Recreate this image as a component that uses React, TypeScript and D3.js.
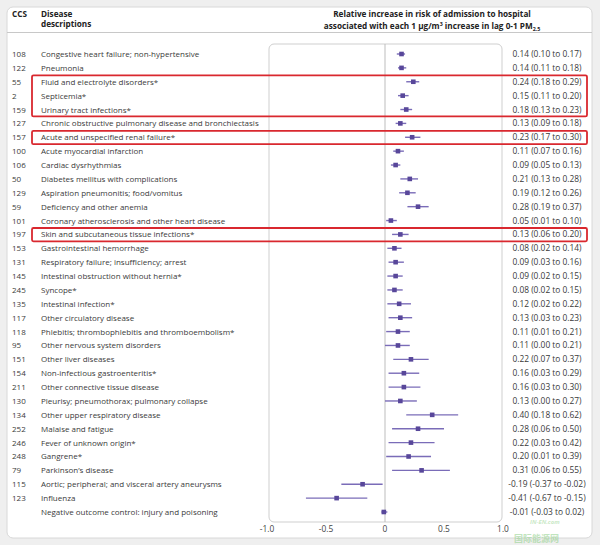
import React from "react";
import * as d3 from "d3";

// rows top to bottom
const ccs = ["108", "122", "55", "2", "159", "127", "157", "100", "106", "50", "129", "59", "101", "197", "153", "131", "145", "245", "135", "117", "118", "95", "151", "154", "211", "130", "134", "252", "246", "248", "79", "115", "123", ""];
const diseases = [
  "Congestive heart failure; non-hypertensive",
  "Pneumonia",
  "Fluid and electrolyte disorders*",
  "Septicemia*",
  "Urinary tract infections*",
  "Chronic obstructive pulmonary disease and bronchiectasis",
  "Acute and unspecified renal failure*",
  "Acute myocardial infarction",
  "Cardiac dysrhythmias",
  "Diabetes mellitus with complications",
  "Aspiration pneumonitis; food/vomitus",
  "Deficiency and other anemia",
  "Coronary atherosclerosis and other heart disease",
  "Skin and subcutaneous tissue infections*",
  "Gastrointestinal hemorrhage",
  "Respiratory failure; insufficiency; arrest",
  "Intestinal obstruction without hernia*",
  "Syncope*",
  "Intestinal infection*",
  "Other circulatory disease",
  "Phlebitis; thrombophlebitis and thromboembolism*",
  "Other nervous system disorders",
  "Other liver diseases",
  "Non-infectious gastroenteritis*",
  "Other connective tissue disease",
  "Pleurisy; pneumothorax; pulmonary collapse",
  "Other upper respiratory disease",
  "Malaise and fatigue",
  "Fever of unknown origin*",
  "Gangrene*",
  "Parkinson\u2019s disease",
  "Aortic; peripheral; and visceral artery aneurysms",
  "Influenza",
  "Negative outcome control: injury and poisoning",
];
const estimate = [0.14, 0.14, 0.24, 0.15, 0.18, 0.13, 0.23, 0.11, 0.09, 0.21, 0.19, 0.28, 0.05, 0.13, 0.08, 0.09, 0.09, 0.08, 0.12, 0.13, 0.11, 0.11, 0.22, 0.16, 0.16, 0.13, 0.40, 0.28, 0.22, 0.20, 0.31, -0.19, -0.41, -0.01];
const lower = [0.10, 0.11, 0.18, 0.11, 0.13, 0.09, 0.17, 0.07, 0.05, 0.13, 0.12, 0.19, 0.01, 0.06, 0.02, 0.03, 0.02, 0.02, 0.02, 0.03, 0.01, 0.00, 0.07, 0.03, 0.03, 0.00, 0.18, 0.06, 0.03, 0.01, 0.06, -0.37, -0.67, -0.03];
const upper = [0.17, 0.18, 0.29, 0.20, 0.23, 0.18, 0.30, 0.16, 0.13, 0.28, 0.26, 0.37, 0.10, 0.20, 0.14, 0.16, 0.15, 0.15, 0.22, 0.23, 0.21, 0.21, 0.37, 0.29, 0.30, 0.27, 0.62, 0.50, 0.42, 0.39, 0.55, -0.02, -0.15, 0.02];
const xTicks = [-1, -0.5, 0, 0.5, 1];
// red outlines drawn round these groups of rows
const highlighted = [["55", "2", "159"], ["157"], ["197"]];

const W = 600;
const H = 545;
const font = "'Open Sans', 'Noto Sans', sans-serif";
const textCol = "#3a3a3a";

export default function App() {
  const rows = d3.range(ccs.length);
  const x = d3.scaleLinear().domain([-1, 1]).range([267, 503]);
  const y = d3.scalePoint<number>().domain(rows).range([54, 512]);
  const step = y.step();
  const f = (v: number) => v.toFixed(2);
  const tickFmt = (v: number) => (v === 0 ? "0" : v.toFixed(1));

  return (
    <div style={{ position: "absolute", left: 0, top: 0 }}>
      <svg width={W} height={H} style={{ display: "block", fontFamily: font }}>
        <rect width={W} height={H} fill="#efefef" />
        <rect x={7} y={7} width={585} height={531} rx={6} fill="#fff" stroke="#d8d8d8" />

        {/* header */}
        <g fill="#222" fontSize={8.2} fontWeight={700}>
          <text x={12} y={17}>CCS</text>
          <text x={41} y={17}>Disease</text>
          <text x={41} y={27}>descriptions</text>
          <text x={432} y={17} textAnchor="middle">Relative increase in risk of admission to hospital</text>
          <text x={432} y={29} textAnchor="middle">
            associated with each 1 μg/m<tspan fontSize={5.3} dy={-3}>3</tspan>
            <tspan dy={3}> increase in lag 0-1 PM</tspan>
            <tspan fontSize={5.3} dy={2}>2.5</tspan>
          </text>
        </g>
        <line x1={7} x2={592} y1={32.5} y2={32.5} stroke="#c8c8c8" />

        {/* plot frame */}
        <rect x={x(-1) + 2} y={44} width={x(1) - x(-1) - 3} height={478} rx={5} fill="none" stroke="#cfcfcf" />
        <line x1={x(0)} x2={x(0)} y1={44} y2={522} stroke="#bdbdbd" />
        <g fill="#444" fontSize={8.4} textAnchor="middle">
          {xTicks.map((t) => (
            <text key={t} x={x(t)} y={532}>{tickFmt(t)}</text>
          ))}
        </g>

        {/* rows */}
        <g fill={textCol}>
          {rows.map((i) => (
            <g key={i}>
              <text x={12} y={(y(i) as number) + 3} fontSize={8}>{ccs[i]}</text>
              <text x={41} y={(y(i) as number) + 3} fontSize={8}>{diseases[i]}</text>
              <text x={547} y={(y(i) as number) + 3} fontSize={8.4} textAnchor="middle">
                {`${f(estimate[i])} (${f(lower[i])} to ${f(upper[i])})`}
              </text>
            </g>
          ))}
        </g>

        {/* intervals and estimates */}
        {rows.map((i) => (
          <g key={i}>
            <line x1={x(lower[i])} x2={x(upper[i])} y1={y(i)} y2={y(i)} stroke="#7a6cb8" strokeWidth={1.4} />
            <rect x={x(estimate[i]) - 2.3} y={(y(i) as number) - 2.3} width={4.6} height={4.6} fill="#58479a" />
          </g>
        ))}

        {/* highlight outlines */}
        {highlighted.map((g, k) => {
          const idx = g.map((c) => ccs.indexOf(c));
          const top = (y(d3.min(idx) as number) as number) - step / 2 + 0.5;
          const bot = (y(d3.max(idx) as number) as number) + step / 2;
          return (
            <rect key={k} x={32} y={top} width={555} height={bot - top} rx={1.5} fill="none" stroke="#d9282f" strokeWidth={1.8} />
          );
        })}

        {/* watermark */}
        <g opacity={0.55}>
          <text x={530} y={523.5} fontSize={6} fontStyle="italic" fontWeight={700} fill="#9fd89a">IN-EN.com</text>
          <text x={514} y={542} fontSize={9} fontWeight={700} fill="#8fd08a" fontFamily="'Noto Sans CJK SC', sans-serif">国际能源网</text>
        </g>
      </svg>
    </div>
  );
}
